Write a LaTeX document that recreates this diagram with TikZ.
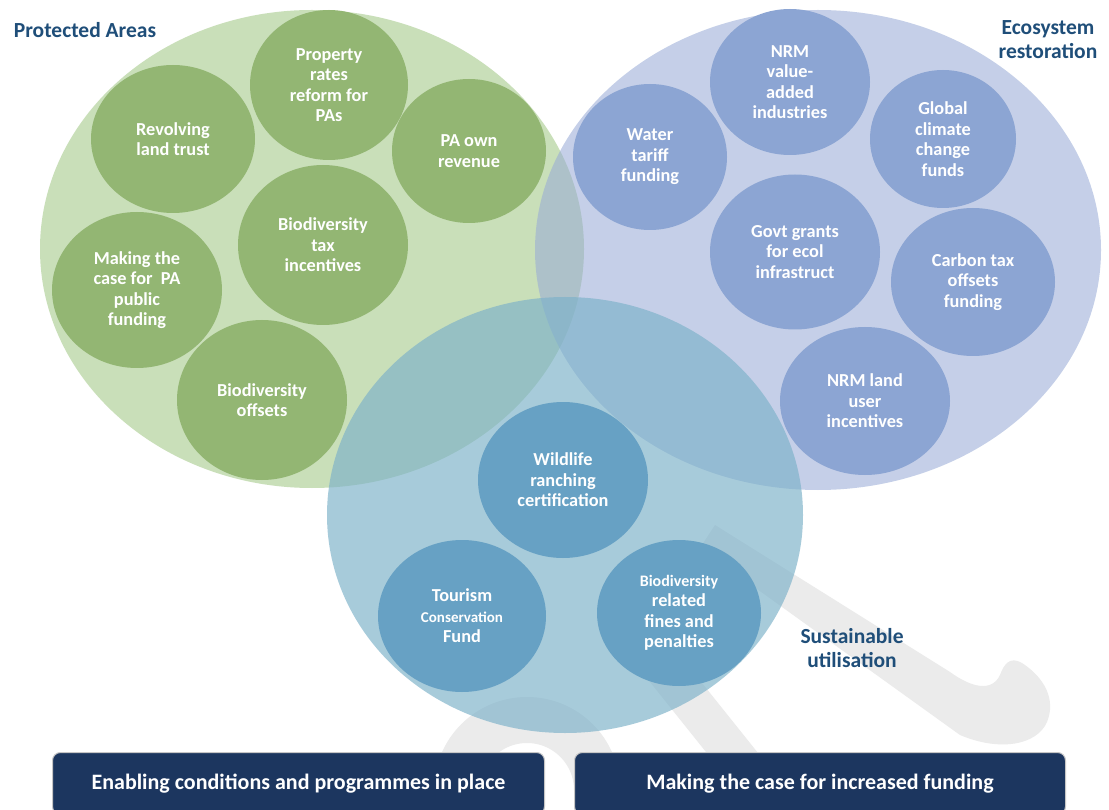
\documentclass[tikz,border=0pt]{standalone}
\usepackage{fontspec}
\setmainfont{Carlito}
\usetikzlibrary{shapes.geometric}
\definecolor{greenbig}{HTML}{C9DFB9}
\definecolor{purpbig}{RGB}{152,171,214}
\definecolor{tealbig}{RGB}{125,178,201}
\definecolor{greensm}{HTML}{93B673}
\definecolor{purpsm}{HTML}{8CA5D3}
\definecolor{tealsm}{HTML}{67A1C4}
\definecolor{headblue}{HTML}{1F4E79}
\definecolor{boxblue}{HTML}{1C365F}
\definecolor{wmgray}{HTML}{EBEBEB}
\begin{document}
\begin{tikzpicture}[x=1pt,y=-1pt,
  bigell/.style={ellipse,inner sep=0pt,draw=none},
  smell/.style={ellipse,inner sep=0pt,draw=none,align=center,text=white,
    font=\bfseries\fontsize{18.3}{20.5}\selectfont},
  gsm/.style={smell,fill=greensm},
  psm/.style={smell,fill=purpsm},
  tsm/.style={smell,fill=tealsm},
  head/.style={align=center,text=headblue,font=\bfseries\fontsize{21.5}{24}\selectfont,inner sep=0pt},
  bluebox/.style={rectangle,rounded corners=8pt,fill=boxblue,draw=gray!45,line width=1pt,
    text=white,font=\bfseries\fontsize{22}{24}\selectfont,anchor=north west},
  wm/.style={wmgray}
]
\useasboundingbox (0,0) rectangle (1109,810);
\clip (0,0) rectangle (1109,810);
\fill[white] (0,0) rectangle (1109,810);
% watermark
\fill[wm] (715,525) -- (950,672) .. controls (972,688) and (992,692) .. (1000,675)
  .. controls (1004,664) and (1010,656) .. (1022,663)
  .. controls (1045,678) and (1056,700) .. (1047,722)
  .. controls (1037,745) and (1000,752) .. (960,735) -- (700,548) -- cycle;
\draw[wm,line width=40pt] (630,625) -- (750,775);
\draw[wm,line width=46pt] (457,830) -- (457,790) arc[start angle=180,end angle=360,radius=70] -- (597,830);
% big circles
\node[bigell,fill=greenbig,minimum width=544pt,minimum height=478pt] (pa) at (312,249) {};
\node[bigell,fill=purpbig,fill opacity=0.56,minimum width=566pt,minimum height=480pt] (er) at (818,250) {};
\node[bigell,fill=tealbig,fill opacity=0.67,minimum width=476pt,minimum height=436pt] (su) at (565,515) {};
% green small
\node[gsm,minimum width=158pt,minimum height=150pt] (prop) at (329,85) {Property\\rates\\reform for\\PAs};
\node[gsm,minimum width=164pt,minimum height=148pt] (rev) at (173,139) {Revolving\\land trust};
\node[gsm,minimum width=154pt,minimum height=144pt] (own) at (469,151) {PA own\\revenue};
\node[gsm,minimum width=170pt,minimum height=160pt] (tax) at (323,245) {Biodiversity\\tax\\incentives};
\node[gsm,minimum width=170pt,minimum height=156pt] (case) at (137,290) {Making the\\case for~ PA\\public\\funding};
\node[gsm,minimum width=170pt,minimum height=160pt] (offs) at (262,400) {Biodiversity\\offsets};
% purple small
\node[psm,minimum width=160pt,minimum height=146pt] (nrmv) at (790,82) {NRM\\value-\\added\\industries};
\node[psm,minimum width=154pt,minimum height=146pt] (water) at (650,157) {Water\\tariff\\funding};
\node[psm,minimum width=146pt,minimum height=138pt] (glob) at (943,139) {Global\\climate\\change\\funds};
\node[psm,minimum width=170pt,minimum height=155pt] (govt) at (795,252) {Govt grants\\for ecol\\infrastruct};
\node[psm,minimum width=164pt,minimum height=148pt] (carb) at (973,282) {Carbon tax\\offsets\\funding};
\node[psm,minimum width=170pt,minimum height=148pt] (land) at (865,401) {NRM land\\user\\incentives};
% teal small
\node[tsm,minimum width=170pt,minimum height=156pt] (wild) at (563,480) {Wildlife\\ranching\\certification};
\node[tsm,minimum width=168pt,minimum height=152pt] (tour) at (462,616) {Tourism\\{\fontsize{15}{20.5}\selectfont Conservation}\\Fund};
\node[tsm,minimum width=164pt,minimum height=146pt] (fines) at (679,613) {{\fontsize{16}{20.5}\selectfont Biodiversity}\\related\\fines and\\penalties};
% headings
\node[head] (hpa) at (85,30) {Protected Areas};
\node[head] (her) at (1048,40) {Ecosystem\\restoration};
\node[head] (hsu) at (852,648) {Sustainable\\utilisation};
% bottom boxes
\node[bluebox,minimum width=492pt,minimum height=62pt] (b1) at (52,752) {Enabling conditions and programmes in place};
\node[bluebox,minimum width=491pt,minimum height=62pt] (b2) at (574,752) {Making the case for increased funding};
\end{tikzpicture}
\end{document}
